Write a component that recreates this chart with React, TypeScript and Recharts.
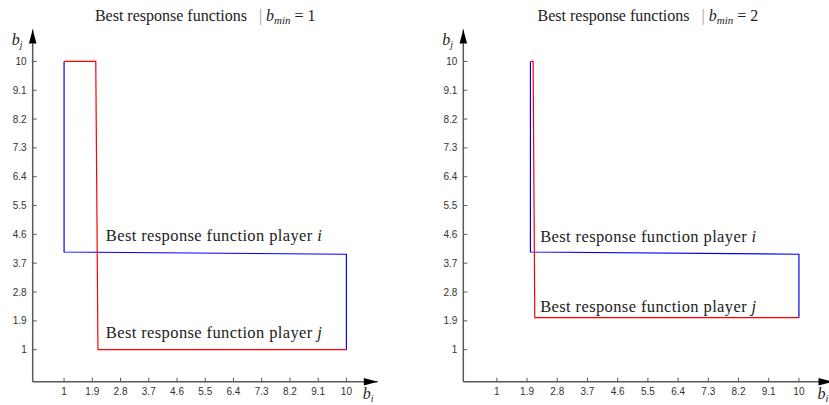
import React from "react";
import { LineChart, Line, XAxis, YAxis, ReferenceDot } from "recharts";

const tickValues = [1, 1.9, 2.8, 3.7, 4.6, 5.5, 6.4, 7.3, 8.2, 9.1, 10];

// Chart 1: b_min = 1
const playerI_1 = [
  { x: 1, y: 10 },
  { x: 1, y: 4.05 },
  { x: 10, y: 3.98 },
  { x: 10, y: 1 },
];
const playerJ_1 = [
  { x: 1, y: 10 },
  { x: 2.01, y: 10 },
  { x: 2.08, y: 1 },
  { x: 10, y: 1 },
];

// Chart 2: b_min = 2
const playerI_2 = [
  { x: 2.0, y: 10 },
  { x: 2.0, y: 4.05 },
  { x: 10, y: 3.98 },
  { x: 10, y: 2 },
];
const playerJ_2 = [
  { x: 2.0, y: 10 },
  { x: 2.08, y: 10 },
  { x: 2.13, y: 2 },
  { x: 10, y: 2 },
];

const titles = ["1", "2"];
const annotationsI = [{ x: 2.33, y: 4.38 }, { x: 2.29, y: 4.36 }];
const annotationsJ = [{ x: 2.33, y: 1.37 }, { x: 2.29, y: 2.17 }];

const SERIF = "'Liberation Serif', 'DejaVu Serif', serif";
const SANS = "'Liberation Sans', Arial, sans-serif";
const AXIS = "#5a5a5a";

const XTick = (props: any) => {
  const { x, y, payload } = props;
  return (
    <g>
      <line x1={x} y1={y} x2={x} y2={y - 4} stroke={AXIS} strokeWidth={1} />
      <text x={x} y={y + 13.5} textAnchor="middle" fontFamily={SANS} fontSize={10} fill="#333">
        {payload.value}
      </text>
    </g>
  );
};

const YTick = (props: any) => {
  const { x, y, payload } = props;
  return (
    <g>
      <line x1={x} y1={y} x2={x + 4} y2={y} stroke={AXIS} strokeWidth={1} />
      <text x={x - 6} y={y + 3.5} textAnchor="end" fontFamily={SANS} fontSize={10} fill="#333">
        {payload.value}
      </text>
    </g>
  );
};

const ArrowRight = (props: any) => {
  const { cx, cy } = props;
  return (
    <g>
      <path d={`M ${cx - 14} ${cy - 3.8} L ${cx} ${cy} L ${cx - 14} ${cy + 3.8} Z`} fill="#000" />
      <text x={cx - 15} y={cy + 17.5} fontFamily={SERIF} fontSize={16} fill="#222">
        <tspan fontStyle="italic">b</tspan>
        <tspan fontStyle="italic" fontSize={10} dy={2.5}>i</tspan>
      </text>
    </g>
  );
};

const ArrowUp = (props: any) => {
  const { cx, cy } = props;
  return (
    <g>
      <path d={`M ${cx - 3.8} ${cy + 14} L ${cx} ${cy} L ${cx + 3.8} ${cy + 14} Z`} fill="#000" />
      <text x={cx - 21} y={cy + 16} fontFamily={SERIF} fontSize={16} fill="#222">
        <tspan fontStyle="italic">b</tspan>
        <tspan fontStyle="italic" fontSize={10} dy={3}>j</tspan>
      </text>
    </g>
  );
};

const makeTitle = (val: string) => (props: any) => {
  const { cx, cy } = props;
  return (
    <text x={cx} y={cy - 8.7} textAnchor="middle" fontFamily={SERIF} fontSize={16} fill="#222">
      <tspan>{"Best response functions"}</tspan>
      <tspan fill="#999" dx={12}>|</tspan>
      <tspan fontStyle="italic" dx={4}>b</tspan>
      <tspan fontStyle="italic" fontSize={11} dy={3}>min</tspan>
      <tspan dy={-3} dx={4}>{"= " + val}</tspan>
    </text>
  );
};

const makeLabel = (who: string) => (props: any) => {
  const { cx, cy } = props;
  return (
    <text
      x={cx}
      y={cy}
      fontFamily={SERIF}
      fontSize={16.5}
      fill="#222"
      textLength={216}
      lengthAdjust="spacing"
    >
      <tspan>{"Best response function player "}</tspan>
      <tspan fontStyle="italic">{who}</tspan>
    </text>
  );
};

const Panel = ({ width, yAxisWidth, rightMargin, dataI, dataJ, idx }: any) => (
  <LineChart
    width={width}
    height={405}
    margin={{ top: 29.4, right: rightMargin, bottom: 0, left: 0 }}
    style={{ overflow: "visible" }}
  >
    <XAxis
      type="number"
      dataKey="x"
      domain={[0, 11]}
      ticks={tickValues}
      interval={0}
      allowDataOverflow
      height={23.3}
      tickLine={false}
      tickSize={0}
      tickMargin={0}
      axisLine={{ stroke: AXIS, strokeWidth: 1.5 }}
      tick={<XTick />}
    />
    <YAxis
      type="number"
      dataKey="y"
      domain={[0, 11]}
      ticks={tickValues}
      interval={0}
      allowDataOverflow
      width={yAxisWidth}
      tickLine={false}
      tickSize={0}
      tickMargin={0}
      axisLine={{ stroke: AXIS, strokeWidth: 1.5 }}
      tick={<YTick />}
    />
    <Line
      data={dataI}
      dataKey="y"
      type="linear"
      stroke="#0000ff"
      strokeWidth={1.2}
      dot={false}
      isAnimationActive={false}
    />
    <Line
      data={dataJ}
      dataKey="y"
      type="linear"
      stroke="#ff0000"
      strokeWidth={1.2}
      dot={false}
      isAnimationActive={false}
    />
    <ReferenceDot x={11} y={0} shape={ArrowRight} ifOverflow="visible" />
    <ReferenceDot x={0} y={11} shape={ArrowUp} ifOverflow="visible" />
    <ReferenceDot x={5.5} y={11} shape={makeTitle(titles[idx])} ifOverflow="visible" />
    <ReferenceDot x={annotationsI[idx].x} y={annotationsI[idx].y} shape={makeLabel("i")} ifOverflow="visible" />
    <ReferenceDot x={annotationsJ[idx].x} y={annotationsJ[idx].y} shape={makeLabel("j")} ifOverflow="visible" />
  </LineChart>
);

export default function App() {
  return (
    <div
      style={{
        position: "absolute",
        left: 0,
        top: 0,
        width: 829,
        height: 405,
        overflow: "hidden",
        background: "#fff",
        display: "flex",
      }}
    >
      <div style={{ width: 415, flex: "none" }}>
        <Panel width={415} yAxisWidth={32.7} rightMargin={37.2} dataI={playerI_1} dataJ={playerJ_1} idx={0} />
      </div>
      <div style={{ width: 430, flex: "none" }}>
        <Panel width={430} yAxisWidth={48.3} rightMargin={12.5} dataI={playerI_2} dataJ={playerJ_2} idx={1} />
      </div>
    </div>
  );
}
